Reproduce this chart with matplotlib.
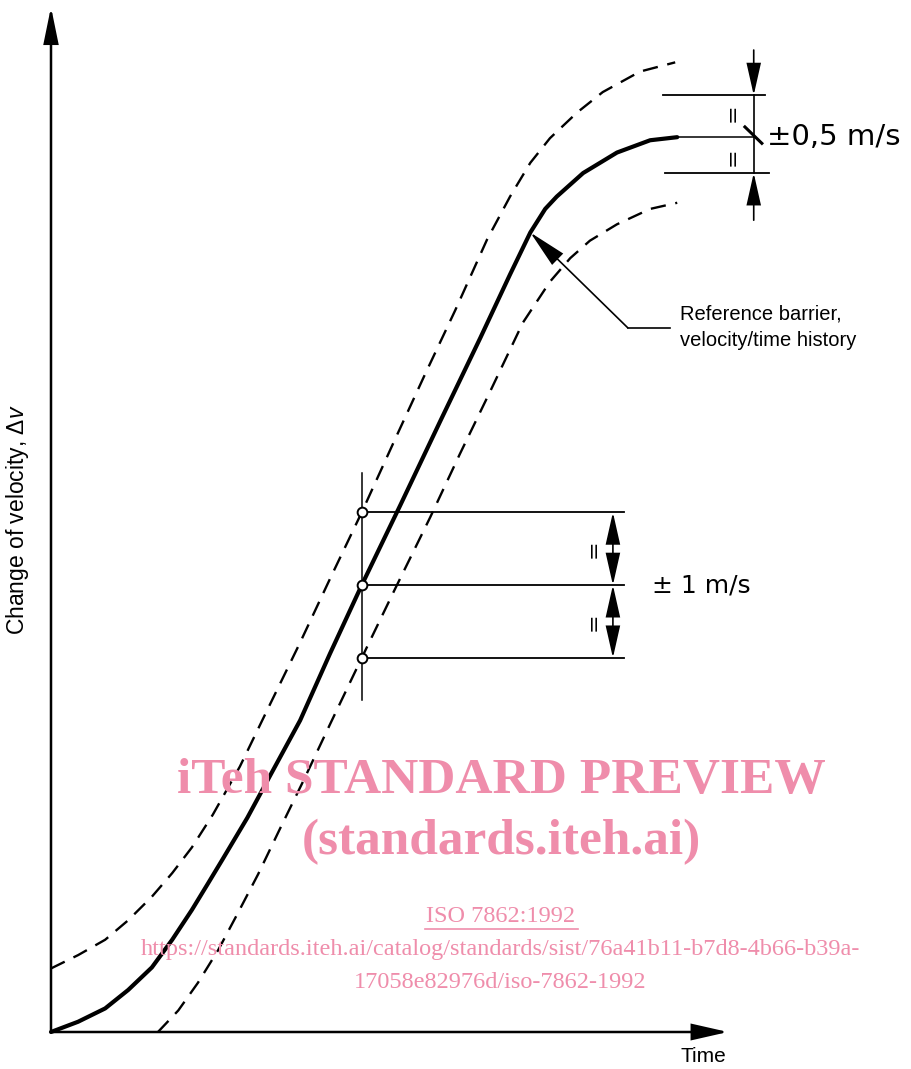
import matplotlib
matplotlib.use("Agg")
import matplotlib.pyplot as plt
from matplotlib.patches import FancyArrowPatch

plt.rcParams["lines.scale_dashes"] = False
plt.rcParams["mathtext.fontset"] = "custom"
plt.rcParams["mathtext.rm"] = "Liberation Sans"
plt.rcParams["mathtext.it"] = "Liberation Sans:italic"

# ---------------------------
# Data (time / delta-v in arbitrary units, 0..100)
# ---------------------------
ref_t = [0, 4.0, 8.0, 11.4, 14.9, 17.9, 20.8, 23.2, 25.3, 29.0, 32.6, 36.8,
         41.2, 45.9, 51.6, 57.5, 63.4, 67.8, 70.8, 73.0, 74.7, 78.6, 83.6,
         88.5, 92.5]
ref_v = [0, 1.0, 2.3, 4.1, 6.3, 9.0, 11.9, 14.5, 16.8, 20.9, 25.3, 30.4,
         36.9, 43.6, 51.4, 59.6, 67.7, 73.9, 78.0, 80.3, 81.5, 83.8, 85.8,
         87.0, 87.3]
kink_idx = 18  # where the leader arrow points

upper_t = [0, 4.0, 8.0, 11.4, 14.9, 17.9, 20.8, 23.9, 27.9, 32.3, 36.8, 41.2,
           45.9, 50.8, 55.2, 59.7, 64.4, 67.8, 70.8, 73.7, 77.7, 81.5, 87.0, 92.2]
upper_v = [6.2, 7.5, 9.0, 10.9, 13.2, 15.5, 18.0, 21.2, 25.9, 31.9, 38.0, 44.2,
           50.7, 57.8, 64.1, 70.4, 77.3, 81.5, 84.8, 87.2, 89.7, 91.7, 93.7, 94.6]

lower_t = [15.8, 18.8, 21.7, 24.7, 27.6, 30.6, 33.8, 37.2, 41.2, 45.9, 50.8,
           56.0, 60.4, 64.8, 69.7, 73.7, 76.7, 79.6, 83.6, 88.5, 92.5]
lower_v = [0, 2.1, 4.8, 8.0, 11.6, 15.4, 19.8, 24.4, 30.0, 36.5, 43.2,
           50.2, 56.4, 62.4, 69.2, 73.2, 75.5, 77.2, 78.8, 80.3, 80.9]

# check point at mid-rise (+/- 1 m/s) and end band (+/- 0.5 m/s)
check_t = 45.9
check_v = [50.7, 43.6, 36.5]
end_v = [91.4, 87.3, 83.8]

ink = "black"
pink = "#EF8DAB"

fig = plt.figure(figsize=(9.11, 10.69), dpi=100)
W, H = 911, 1069
ax = fig.add_axes([51 / W, (H - 1032) / H, (728 - 51) / W, (1032 - 7) / H])
ax.set_xlim(0, 100)
ax.set_ylim(0, 100)
ax.axis("off")


def arrow(p0, p1, lw=1.2, hl=2.0, hw=0.45, style="-|>"):
    a = FancyArrowPatch(p0, p1, arrowstyle=f"{style},head_length={hl},head_width={hw}",
                        mutation_scale=10, color=ink, lw=lw, shrinkA=0, shrinkB=0,
                        clip_on=False, joinstyle="miter")
    ax.add_patch(a)


# axes with arrow heads
arrow((0, 0), (0, 100), lw=1.8, hl=2.2, hw=0.45)
arrow((0, 0), (100, 0), lw=1.8, hl=2.2, hw=0.5)

# ---------------------------
# Curves
# ---------------------------
ax.plot(ref_t, ref_v, color=ink, lw=3.0, solid_capstyle="round",
        solid_joinstyle="round", clip_on=False)
ax.plot(upper_t, upper_v, color=ink, lw=1.7, dashes=(11, 7), clip_on=False)
ax.plot(lower_t, lower_v, color=ink, lw=1.7, dashes=(11, 7), clip_on=False)

# ---------------------------
# +/- 1 m/s check at mid-rise
# ---------------------------
ax.plot([check_t, check_t], [54.5, 32.4], color=ink, lw=1.1, clip_on=False)
for v in check_v:
    ax.plot([check_t, 84.6], [v, v], color=ink, lw=1.3, clip_on=False)
    ax.plot([check_t], [v], marker="o", ms=7, mfc="white", mec=ink, mew=1.4,
            clip_on=False, zorder=5)
dim_x = 83.0
arrow((dim_x, check_v[1]), (dim_x, check_v[0]), lw=1.2, hl=2.0, hw=0.45, style="<|-|>")
arrow((dim_x, check_v[1]), (dim_x, check_v[2]), lw=1.2, hl=2.0, hw=0.45, style="<|-|>")
for v in [(check_v[0] + check_v[1]) / 2, (check_v[1] + check_v[2]) / 2]:
    ax.text(80.1, v, "=", rotation=90, fontsize=16, ha="center", va="center",
            family="DejaVu Sans")
ax.text(88.8, check_v[1], "± 1 m/s", fontsize=18, ha="left", va="center",
        family="DejaVu Sans")

# ---------------------------
# +/- 0.5 m/s band at end
# ---------------------------
ax.plot([90.4, 105.5], [end_v[0], end_v[0]], color=ink, lw=1.3, clip_on=False)
ax.plot([ref_t[-1], 103.8], [end_v[1], end_v[1]], color=ink, lw=1.1, clip_on=False)
ax.plot([90.7, 106.0], [end_v[2], end_v[2]], color=ink, lw=1.3, clip_on=False)
bx = 103.8
ax.plot([bx, bx], [end_v[0], end_v[2]], color=ink, lw=1.2, clip_on=False)
arrow((bx, 95.8), (bx, end_v[0]), lw=1.2, hl=2.0, hw=0.45)
arrow((bx, 79.2), (bx, end_v[2]), lw=1.2, hl=2.0, hw=0.45)
ax.plot([102.5, 105.0], [88.3, 86.7], color=ink, lw=2.2, clip_on=False)
for v in [89.7, 85.4]:
    ax.text(100.7, v, "=", rotation=90, fontsize=16, ha="center", va="center",
            family="DejaVu Sans")
ax.text(105.7, end_v[1], "±0,5 m/s", fontsize=21, ha="left", va="center",
        family="DejaVu Sans")

# ---------------------------
# Leader to reference curve
# ---------------------------
ax.plot([91.4, 85.2], [68.7, 68.7], color=ink, lw=1.2, clip_on=False)
arrow((85.2, 68.7), (ref_t[kink_idx], ref_v[kink_idx]), lw=1.2, hl=2.4, hw=0.5)
ax.text(92.9, 70.0, "Reference barrier,", fontsize=14.5, ha="left", va="center",
        family="Liberation Sans")
ax.text(92.9, 67.5, "velocity/time history", fontsize=14.5, ha="left", va="center",
        family="Liberation Sans")

# axis labels
ax.text(-4.9, 50.0, r"Change of velocity, $\Delta v$", rotation=90, fontsize=16.5,
        ha="center", va="center", family="Liberation Sans")
ax.text(96.3, -2.4, "Time", fontsize=15, ha="center", va="center",
        family="Liberation Sans")

# ---------------------------
# Watermark
# ---------------------------
def ftxt(px, py, s, **kw):
    fig.text(px / W, 1 - py / H, s, color=pink, ha="center", va="center",
             family="Liberation Serif", **kw)


ftxt(501, 781, "iTeh STANDARD PREVIEW", fontsize=37, weight="bold")
ftxt(501, 842, "(standards.iteh.ai)", fontsize=37, weight="bold")
ftxt(501, 917, "ISO 7862:1992", fontsize=17.5)
fig.add_artist(plt.Line2D([425 / W, 578 / W], [1 - 929 / H, 1 - 929 / H],
                          color=pink, lw=1.2))
ftxt(500, 950, "https://standards.iteh.ai/catalog/standards/sist/76a41b11-b7d8-4b66-b39a-",
     fontsize=17.5)
ftxt(500, 983, "17058e82976d/iso-7862-1992", fontsize=17.5)

fig.savefig("out.png", dpi=100, facecolor="white")
